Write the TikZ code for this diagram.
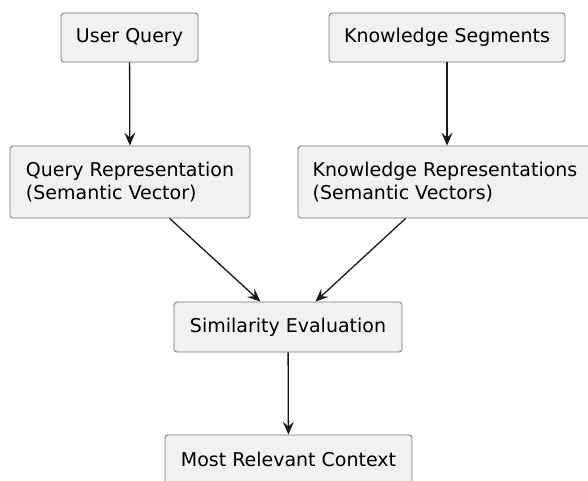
\documentclass[tikz,border=0pt]{standalone}
\usepackage{fontspec}
\setmainfont{DejaVu Sans}
\usetikzlibrary{arrows.meta}

\definecolor{boxfill}{HTML}{F1F1F1}
\definecolor{boxline}{HTML}{181818}

\tikzset{
    box/.style={draw=boxline!60, line width=0.8pt, fill=boxfill, rounded corners=3pt,
        font=\fontsize{19}{23}\selectfont, align=left, inner sep=0pt},
    flow/.style={draw=boxline, line width=1.3pt, -{Stealth[length=13pt,width=11pt,inset=5pt]}}
}

\begin{document}
\begin{tikzpicture}[x=1pt, y=-1pt]
        \useasboundingbox (0,0) rectangle (588,480);

        \node[box, minimum width=137pt, minimum height=49pt] (userquery) at (129.5,37.5) {User Query};
        \node[box, minimum width=236pt, minimum height=49pt] (segments) at (447,37.5) {Knowledge Segments};

        \node[box, minimum width=240pt, minimum height=72pt] (queryrep) at (130,182) {Query Representation\\(Semantic Vector)};
        \node[box, minimum width=294pt, minimum height=72pt] (knowrep) at (445,182) {Knowledge Representations\\(Semantic Vectors)};

        \node[box, minimum width=228pt, minimum height=50pt] (similarity) at (288,327) {Similarity Evaluation};
        \node[box, minimum width=247pt, minimum height=49pt] (context) at (288.5,459.5) {Most Relevant Context};

        \draw[flow] (userquery) -- (queryrep);
        \draw[flow] (segments) -- (segments |- knowrep.north);
        \draw[flow] (queryrep) -- (similarity);
        \draw[flow] (knowrep) -- (similarity);
        \draw[flow] (similarity) -- (context);
\end{tikzpicture}
\end{document}
